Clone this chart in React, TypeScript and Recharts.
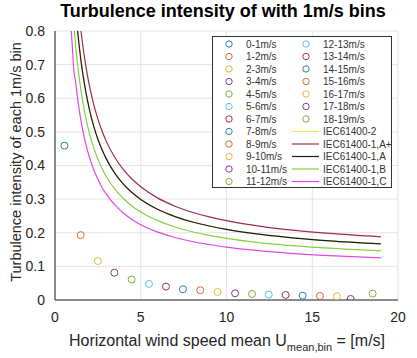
import React from 'react';
import { ComposedChart, Line, Scatter, XAxis, YAxis, CartesianGrid, Label } from 'recharts';

// wind speed bins (scatter series)
const binNames = [
    '0-1m/s', '1-2m/s', '2-3m/s', '3-4m/s', '4-5m/s', '5-6m/s', '6-7m/s', '7-8m/s', '8-9m/s', '9-10m/s',
    '10-11m/s', '11-12m/s', '12-13m/s', '13-14m/s', '14-15m/s', '15-16m/s', '16-17m/s', '17-18m/s', '18-19m/s',
];
const binU = [0.55, 1.5, 2.5, 3.46, 4.47, 5.48, 6.47, 7.46, 8.47, 9.48, 10.5, 11.49, 12.46, 13.45, 14.44, 15.45, 16.44, 17.24, 18.52];
const binTI = [0.459, 0.193, 0.116, 0.081, 0.061, 0.048, 0.04, 0.032, 0.029, 0.024, 0.02, 0.018, 0.016, 0.015, 0.013, 0.012, 0.011, 0.003, 0.019];

// IEC reference curves
const curveU = [0.8, 0.9, 1, 1.1, 1.2, 1.3, 1.4, 1.5, 1.6, 1.8, 2, 2.25, 2.5, 2.75, 3, 3.5, 4, 4.5, 5, 6, 7, 8, 9, 10, 12, 14, 16, 19];
const iec2 = [1.245, 1.12, 1.02, 0.938, 0.87, 0.812, 0.763, 0.72, 0.683, 0.62, 0.57, 0.52, 0.48, 0.447, 0.42, 0.377, 0.345, 0.32, 0.3, 0.27, 0.249, 0.233, 0.22, 0.21, 0.195, 0.184, 0.176, 0.167];
const iecAplus = [1.395, 1.255, 1.143, 1.051, 0.975, 0.91, 0.855, 0.807, 0.765, 0.695, 0.639, 0.583, 0.538, 0.502, 0.471, 0.423, 0.387, 0.359, 0.337, 0.303, 0.279, 0.261, 0.247, 0.236, 0.219, 0.207, 0.198, 0.188];
const iecA = [1.24, 1.116, 1.016, 0.935, 0.867, 0.809, 0.76, 0.717, 0.68, 0.618, 0.568, 0.518, 0.478, 0.446, 0.419, 0.376, 0.344, 0.319, 0.299, 0.269, 0.248, 0.232, 0.22, 0.21, 0.195, 0.184, 0.176, 0.167];
const iecB = [1.085, 0.976, 0.889, 0.818, 0.758, 0.708, 0.665, 0.628, 0.595, 0.541, 0.497, 0.453, 0.419, 0.39, 0.366, 0.329, 0.301, 0.279, 0.262, 0.236, 0.217, 0.203, 0.192, 0.183, 0.17, 0.161, 0.154, 0.146];
const iecC = [0.93, 0.837, 0.762, 0.681, 0.65, 0.607, 0.57, 0.538, 0.51, 0.463, 0.426, 0.389, 0.359, 0.334, 0.314, 0.282, 0.258, 0.239, 0.224, 0.202, 0.186, 0.174, 0.165, 0.157, 0.146, 0.138, 0.132, 0.125];

const xTicks = [0, 5, 10, 15, 20];
const yTicks = [0, 0.1, 0.2, 0.3, 0.4, 0.5, 0.6, 0.7, 0.8];

const cycle = ['#2a7fbf', '#d9683a', '#e8b834', '#84398f', '#82b040', '#55c0ec', '#a83048'];

const curves = [
    { name: 'IEC61400-2', values: iec2, color: '#f2e660' },
    { name: 'IEC61400-1,A+', values: iecAplus, color: '#a02c48' },
    { name: 'IEC61400-1,A', values: iecA, color: '#1a1a1a' },
    { name: 'IEC61400-1,B', values: iecB, color: '#86d23a' },
    { name: 'IEC61400-1,C', values: iecC, color: '#e645e6' },
];

const FONT = '"Liberation Sans", Arial, sans-serif';

// MATLAB-style legend box drawn over the axes
const LegendBox = () => {
    const rowH = 12.5;
    const y0 = 8;
    return (
        <svg width={180} height={152} style={{ position: 'absolute', left: 212, top: 36 }}>
            <rect x={0.5} y={0.5} width={179} height={151} fill="#fff" stroke="#333" strokeWidth={1} />
            {binNames.map((name, i) => {
                const col = i < 12 ? 0 : 1;
                const row = i < 12 ? i : i - 12;
                const mx = col === 0 ? 17 : 94;
                const tx = col === 0 ? 34 : 111;
                const cy = y0 + row * rowH;
                return (
                    <g key={name}>
                        <circle cx={mx} cy={cy} r={3.2} fill="none" stroke={cycle[i % 7]} strokeWidth={1} />
                        <text x={tx} y={cy + 3.5} fontSize={10} fontFamily={FONT} fill="#333">{name}</text>
                    </g>
                );
            })}
            {curves.map((c, j) => {
                const cy = y0 + (7 + j) * rowH;
                return (
                    <g key={c.name}>
                        <line x1={80} x2={107} y1={cy} y2={cy} stroke={c.color} strokeWidth={1.2} />
                        <text x={111} y={cy + 3.5} fontSize={10} fontFamily={FONT} fill="#333">{c.name}</text>
                    </g>
                );
            })}
        </svg>
    );
};

const App: React.FC = () => {
    return (
        <div style={{ position: 'absolute', left: 0, top: 0, width: 417, height: 358, background: '#fff', fontFamily: FONT }}>
            <div style={{ position: 'absolute', left: 0, top: 1, width: 446, textAlign: 'center', fontSize: 18, fontWeight: 'bold', color: '#000' }}>
                Turbulence intensity of with 1m/s bins
            </div>
            <ComposedChart width={417} height={358} margin={{ top: 31, right: 19, left: 15, bottom: 0 }}>
                <CartesianGrid stroke="#e4e4e4" />
                <XAxis
                    type="number"
                    dataKey="x"
                    domain={[0, 20]}
                    ticks={xTicks}
                    allowDataOverflow
                    height={58}
                    tickLine={false}
                    axisLine={{ stroke: '#262626' }}
                    tick={{ fontSize: 14, fill: '#262626', fontFamily: FONT }}
                    tickMargin={6}
                >
                    <Label
                        content={() => (
                            <text x={227} y={346} textAnchor="middle" fontSize={16} fontFamily={FONT} fill="#262626">
                                Horizontal wind speed mean U
                                <tspan fontSize={11} dy={5}>mean,bin</tspan>
                                <tspan dy={-5}> = [m/s]</tspan>
                            </text>
                        )}
                    />
                </XAxis>
                <YAxis
                    type="number"
                    dataKey="y"
                    domain={[0, 0.8]}
                    ticks={yTicks}
                    allowDataOverflow
                    width={40}
                    tickLine={false}
                    axisLine={{ stroke: '#262626' }}
                    tick={{ fontSize: 14, fill: '#262626', fontFamily: FONT }}
                    tickFormatter={(v: number) => (v === 0 ? '0' : String(Number(v.toFixed(1))))}
                    tickMargin={4}
                >
                    <Label
                        content={() => (
                            <text x={21} y={162} transform="rotate(-90 21 162)" textAnchor="middle" fontSize={14.5} fontFamily={FONT} fill="#262626">
                                Turbulence intensity of each 1m/s bin
                            </text>
                        )}
                    />
                </YAxis>
                {curves.map((c) => (
                    <Line
                        key={c.name}
                        name={c.name}
                        data={curveU.map((u, i) => ({ x: u, y: c.values[i] }))}
                        dataKey="y"
                        type="monotone"
                        stroke={c.color}
                        strokeWidth={1.2}
                        dot={false}
                        activeDot={false}
                        isAnimationActive={false}
                    />
                ))}
                {binNames.map((name, i) => (
                    <Scatter
                        key={name}
                        name={name}
                        data={[{ x: binU[i], y: binTI[i] }]}
                        dataKey="y"
                        isAnimationActive={false}
                        shape={(p: any) => <circle cx={p.cx} cy={p.cy} r={3.5} fill="none" stroke={cycle[i % 7]} strokeWidth={1} />}
                    />
                ))}
            </ComposedChart>
            <LegendBox />
        </div>
    );
};

export default App;
